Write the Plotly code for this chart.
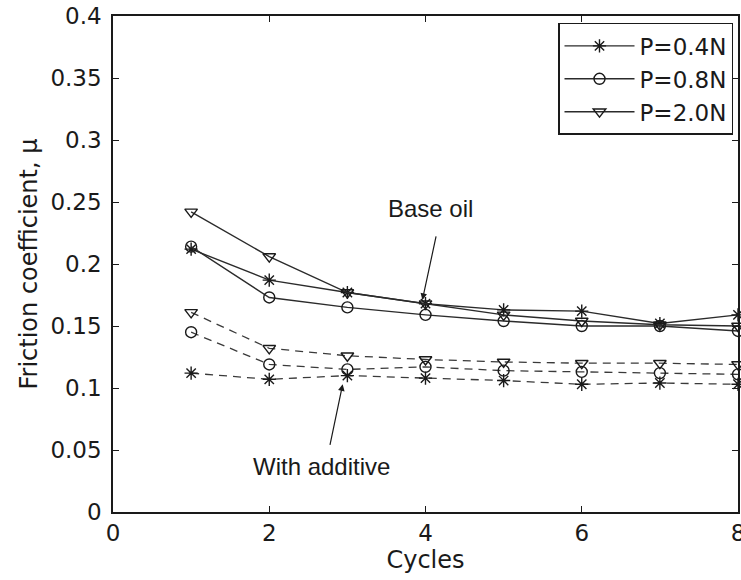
import plotly.graph_objects as go

# Test cycles
cycles = [1, 2, 3, 4, 5, 6, 7, 8]

# Friction coefficient, base oil
base_p04 = [0.212, 0.187, 0.177, 0.168, 0.163, 0.162, 0.152, 0.159]
base_p08 = [0.214, 0.173, 0.165, 0.159, 0.154, 0.150, 0.150, 0.146]
base_p20 = [0.242, 0.206, 0.177, 0.168, 0.159, 0.154, 0.151, 0.150]

# Friction coefficient, oil with additive
add_p04 = [0.112, 0.107, 0.110, 0.108, 0.106, 0.103, 0.104, 0.103]
add_p08 = [0.145, 0.119, 0.115, 0.117, 0.114, 0.113, 0.112, 0.111]
add_p20 = [0.161, 0.132, 0.126, 0.123, 0.121, 0.120, 0.120, 0.119]

load_labels = ["P=0.4N", "P=0.8N", "P=2.0N"]
marker_symbols = ["asterisk-open", "circle-open", "triangle-down-open"]

x_ticks = [0, 2, 4, 6, 8]
y_ticks = [0, 0.05, 0.1, 0.15, 0.2, 0.25, 0.3, 0.35, 0.4]
y_tick_text = ["0", "0.05", "0.1", "0.15", "0.2", "0.25", "0.3", "0.35", "0.4"]

FONT = "DejaVu Sans, Verdana, sans-serif"
LABEL_FONT = "Liberation Sans, Arial, Helvetica, sans-serif"
INK = "#1a1a1a"
LINE = "#2b2b2b"

fig = go.Figure()

for label, sym, ys in zip(load_labels, marker_symbols, [base_p04, base_p08, base_p20]):
    fig.add_trace(go.Scatter(
        x=cycles, y=ys, name=label, mode="lines+markers",
        line=dict(color=LINE, width=1.4),
        marker=dict(symbol=sym, size=11, color=INK, line=dict(color=INK, width=1.4)),
        cliponaxis=False,
    ))

for label, sym, ys in zip(load_labels, marker_symbols, [add_p04, add_p08, add_p20]):
    fig.add_trace(go.Scatter(
        x=cycles, y=ys, name=label, mode="lines+markers", showlegend=False,
        line=dict(color="#3a3a3a", width=1.3, dash="8px,6px"),
        marker=dict(symbol=sym, size=11, color=INK, line=dict(color=INK, width=1.4)),
        cliponaxis=False,
    ))

axis_common = dict(
    showline=True, linecolor=INK, linewidth=1.5, mirror="ticks",
    ticks="inside", ticklen=6, tickcolor=INK, tickwidth=1.3,
    showgrid=False, zeroline=False,
    tickfont=dict(family=FONT, size=23, color=INK),
    ticklabeloverflow="allow",
    automargin=False,
)

fig.update_xaxes(
    range=[0, 8], tickvals=x_ticks, ticktext=[str(v) for v in x_ticks],
    title=dict(text="Cycles", font=dict(family=FONT, size=24, color=INK), standoff=2),
    **axis_common,
)
fig.update_yaxes(
    range=[0, 0.4], tickvals=y_ticks, ticktext=y_tick_text,
    title=dict(text="Friction coefficient, μ", font=dict(family=FONT, size=24, color=INK), standoff=6),
    ticklabelstandoff=5,
    **axis_common,
)

# Text labels and pointer arrows for the two oil groups
fig.add_annotation(x=4.07, y=0.2444, xref="x", yref="y", text="Base oil",
                   showarrow=False, font=dict(family=LABEL_FONT, size=24, color=INK))
fig.add_annotation(x=3.96, y=0.171, xref="x", yref="y", text="", showarrow=True,
                   ax=14, ay=-65, arrowhead=2, arrowsize=1.1, arrowwidth=1.2, arrowcolor=INK)
fig.add_annotation(x=2.67, y=0.0363, xref="x", yref="y", text="With additive",
                   showarrow=False, font=dict(family=LABEL_FONT, size=24, color=INK))
fig.add_annotation(x=2.94, y=0.103, xref="x", yref="y", text="", showarrow=True,
                   ax=-13, ay=62, arrowhead=2, arrowsize=1.1, arrowwidth=1.2, arrowcolor=INK)

fig.update_layout(
    width=741, height=580,
    margin=dict(l=113, r=3, t=16, b=68),
    paper_bgcolor="white", plot_bgcolor="white",
    font=dict(family=FONT, color=INK),
    legend=dict(
        x=0.992, y=0.986, xanchor="right", yanchor="top",
        bgcolor="white", bordercolor=INK, borderwidth=1.5,
        font=dict(family=FONT, size=23, color=INK),
        itemwidth=70,
    ),
)

fig.write_html("out.html")
